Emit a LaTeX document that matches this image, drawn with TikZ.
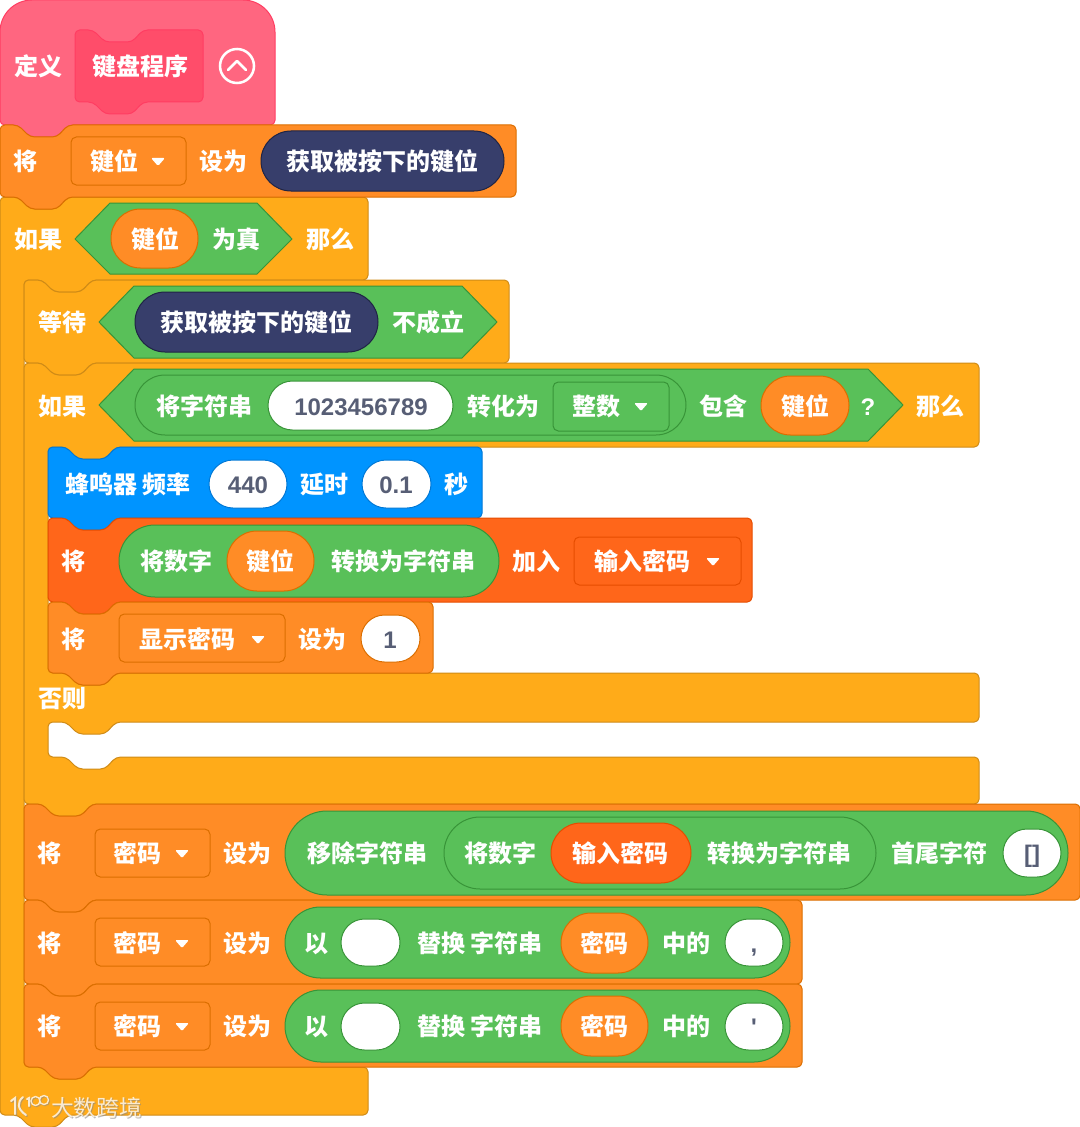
\documentclass[tikz,border=0pt]{standalone}
\usepackage{fontspec}
\setmainfont{Noto Sans CJK SC}
\newfontfamily\lat{Liberation Sans}
\definecolor{hatF}{HTML}{FF6680}\definecolor{hatD}{HTML}{FF3D62}
\definecolor{hatI}{HTML}{FF4D6A}
\definecolor{ctlF}{HTML}{FFAB19}\definecolor{ctlD}{HTML}{CF8B17}
\definecolor{varF}{HTML}{FF8C26}\definecolor{varD}{HTML}{DB6E00}
\definecolor{grnF}{HTML}{59C059}\definecolor{grnD}{HTML}{389438}
\definecolor{navF}{HTML}{373E6B}\definecolor{navD}{HTML}{1F2445}
\definecolor{bluF}{HTML}{0094FF}\definecolor{bluD}{HTML}{0078D6}
\definecolor{redF}{HTML}{FF661A}\definecolor{redD}{HTML}{E64D00}
\definecolor{numC}{HTML}{575E75}
\definecolor{wmC}{HTML}{FFF3DF}
\definecolor{wmS}{HTML}{8A8A8A}
\tikzset{
  hatsty/.style={fill=hatF,draw=hatD},
  hatin/.style={fill=hatI,draw=hatD},
  ctl/.style={fill=ctlF,draw=ctlD},
  vari/.style={fill=varF,draw=varD},
  grn/.style={fill=grnF,draw=grnD},
  nav/.style={fill=navF,draw=navD},
  blu/.style={fill=bluF,draw=bluD},
  red/.style={fill=redF,draw=redD},
  whi/.style={fill=white,draw=grnD},
  whibl/.style={fill=white,draw=bluD},
  whiv/.style={fill=white,draw=varD},
  blk/.style={line width=0.75pt,rounded corners=3.5pt,line join=round},
  lbl/.style={text=white,font=\fontsize{18}{18}\selectfont\bfseries,inner sep=0pt,text height=15.84pt,text depth=2.16pt},
  num/.style={text=numC,font=\fontsize{18}{18}\selectfont\lat\bfseries,inner sep=0pt,text height=15.84pt,text depth=2.16pt},
  wmtxt/.style={font=\fontsize{17}{17}\selectfont,inner sep=0pt},
}
\newcounter{tc}
\newcommand\tx[3]{\stepcounter{tc}\node[lbl] (t\thetc) at (#1,#2) {#3};}
\newcommand\nm[3]{\stepcounter{tc}\node[num] (t\thetc) at (#1,#2) {#3};}
% top notch left to right, bottom tab right to left
\newcommand\nT[2]{-- (#1+18,#2) -- (#1+30,#2+12) -- (#1+57,#2+12) -- (#1+68,#2)}
\newcommand\nB[2]{-- (#1+68,#2) -- (#1+57,#2+12) -- (#1+30,#2+12) -- (#1+18,#2)}
\newcommand\stk[5]{\draw[blk,#5] (#1,#2) \nT{#1}{#2} -- (#3,#2) -- (#3,#4) \nB{#1}{#4} -- (#1,#4) -- cycle;}
\newcommand\pill[5]{\draw[line width=0.75pt,#5,rounded corners={(#4-#3)/2*0.75pt}] (#1,#3) rectangle (#2,#4);}
\newcommand\dd[5]{\draw[line width=0.75pt,#5,rounded corners=4pt] (#1,#3) rectangle (#2,#4);}
\newcommand\tri[2]{\fill[white,rounded corners=1pt] (#1-7,#2-4) -- (#1+7,#2-4) -- (#1,#2+4) -- cycle;}
\newcommand\hex[7]{\draw[line width=0.75pt,grn,line join=round] (#1,#6) -- (#2,#4) -- (#3-#7,#4) -- (#3,#6) -- (#3-#7,#5) -- (#2,#5) -- cycle;}
\newcommand\wmlogo{
  \draw (11,1101) -- (15,1098) -- (15,1114);
  \draw (23,1097) .. controls (17,1102) and (17,1109) .. (26,1115);
  \draw (27,1099) -- (29,1098) -- (29,1106);
  \draw[line width=1pt] (35.5,1101) circle (4.5) (44,1100) circle (4.5);
}
\begin{document}
\begin{tikzpicture}[x=0.75pt,y=-0.75pt]
\useasboundingbox (0,0) rectangle (1080,1127);
\begin{scope}
\clip (0,0) rectangle (1080,1127);
% hat
\draw[line width=0.75pt,hatsty,line join=round,rounded corners=3.5pt]
  (0,125) -- (0,40) [rounded corners=24pt] -- (0,0) -- (275,0) [rounded corners=3.5pt] -- (275,40) -- (275,125) \nB{0}{125} -- cycle;
\draw[blk,hatin] (75,30) \nT{75}{30} -- (203,30) -- (203,102) \nB{75}{102} -- (75,102) -- cycle;
\tx{38}{66}{定义}
\tx{140}{66}{键盘程序}
\draw[white,line width=1.9pt] (237,66) circle (17);
\draw[white,line width=1.9pt,line cap=round,line join=round] (228,70) -- (237,61) -- (246,70);
% outer C
\draw[blk,ctl] (0,197) \nT{0}{197} -- (368,197) -- (368,280) \nB{24}{280} -- (24,280) -- (24,1067) \nT{24}{1067} -- (368,1067) -- (368,1115) \nB{0}{1115} -- (0,1115) -- cycle;
% set key
\stk{0}{125}{516}{197}{vari}
\tx{25}{161}{将}
\dd{71}{186}{137}{185}{vari}
\tx{114}{161}{键位}\tri{158}{162}
\tx{223}{161}{设为}
\pill{261}{504}{131}{191}{nav}
\tx{382}{161}{获取被按下的键位}
% if header
\tx{38}{239}{如果}
\hex{75}{110}{292}{203}{274}{239}{35}
\pill{111}{198}{209}{268}{vari}
\tx{155}{239}{键位}
\tx{236}{239}{为真}
\tx{330}{239}{那么}
% wait
\stk{24}{280}{509}{363}{ctl}
\tx{62}{322}{等待}
\hex{99}{134}{497}{286}{358}{322}{35}
\pill{135}{378}{292}{352}{nav}
\tx{256}{322}{获取被按下的键位}
\tx{428}{322}{不成立}
% inner if/else
\draw[blk,ctl] (24,363) \nT{24}{363} -- (979,363) -- (979,447) \nB{48}{447} -- (48,447) -- (48,673) \nT{48}{673} -- (979,673) -- (979,722) \nB{48}{722} -- (48,722) -- (48,757) \nT{48}{757} -- (979,757) -- (979,804) \nB{24}{804} -- (24,804) -- cycle;
\tx{62}{406}{如果}
\hex{99}{134}{903}{369}{441}{405}{35}
\pill{135}{686}{375}{435}{grn}
\tx{204}{406}{将字符串}
\pill{268}{453}{381}{430}{whi}
\nm{361}{406}{1023456789}
\tx{503}{406}{转化为}
\dd{553}{669}{382}{431}{grn}
\tx{596}{406}{整数}\tri{641}{407}
\tx{723}{406}{包含}
\pill{761}{849}{376}{435}{vari}
\tx{805}{406}{键位}
\nm{868}{406}{\textcolor{white}{?}}
\tx{940}{406}{那么}
% beep
\stk{48}{447}{482}{518}{blu}
\tx{128}{484}{蜂鸣器 频率}
\pill{209}{287}{460}{508}{whibl}
\nm{248}{484}{440}
\tx{324}{484}{延时}
\pill{362}{431}{460}{508}{whibl}
\nm{396}{484}{0.1}
\tx{456}{484}{秒}
% add to list
\stk{48}{518}{752}{602}{red}
\tx{73}{561}{将}
\pill{119}{499}{525}{597}{grn}
\tx{176}{561}{将数字}
\pill{227}{314}{531}{591}{vari}
\tx{270}{561}{键位}
\tx{403}{561}{转换为字符串}
\tx{536}{561}{加入}
\dd{574}{741}{537}{585}{red}
\tx{642}{561}{输入密码}\tri{713}{562}
% show password
\stk{48}{602}{433}{673}{vari}
\tx{73}{639}{将}
\dd{119}{285}{614}{662}{vari}
\tx{187}{639}{显示密码}\tri{258}{640}
\tx{322}{639}{设为}
\pill{361}{420}{615}{662}{whiv}
\nm{390}{639}{1}
\tx{62}{698}{否则}
% password 1
\stk{24}{804}{1080}{900}{vari}
\tx{49}{853}{将}
\dd{95}{210}{829}{877}{vari}
\tx{137}{853}{密码}\tri{182}{854}
\tx{247}{853}{设为}
\pill{285}{1068}{811}{895}{grn}
\tx{367}{853}{移除字符串}
\pill{444}{876}{817}{889}{grn}
\tx{500}{853}{将数字}
\pill{551}{691}{823}{883}{red}
\tx{620}{853}{输入密码}
\tx{779}{853}{转换为字符串}
\tx{939}{853}{首尾字符}
\pill{1003}{1061}{829}{877}{whi}
\nm{1032}{853}{[]}
% password 2
\stk{24}{900}{802}{984}{vari}
\tx{49}{943}{将}
\dd{95}{210}{918}{966}{vari}
\tx{137}{943}{密码}\tri{182}{944}
\tx{247}{943}{设为}
\pill{285}{790}{907}{978}{grn}
\tx{316}{943}{以}
\pill{341}{400}{919}{966}{whi}
\tx{480}{943}{替换 字符串}
\pill{561}{648}{913}{973}{vari}
\tx{604}{943}{密码}
\tx{686}{943}{中的}
\pill{725}{783}{919}{966}{whi}
\nm{754}{943}{,}
% password 3
\stk{24}{984}{802}{1067}{vari}
\tx{49}{1026}{将}
\dd{95}{210}{1002}{1050}{vari}
\tx{137}{1026}{密码}\tri{182}{1027}
\tx{247}{1026}{设为}
\pill{285}{790}{990}{1062}{grn}
\tx{316}{1026}{以}
\pill{341}{400}{1003}{1050}{whi}
\tx{480}{1026}{替换 字符串}
\pill{561}{648}{996}{1056}{vari}
\tx{604}{1026}{密码}
\tx{686}{1026}{中的}
\pill{725}{783}{1003}{1050}{whi}
\nm{754}{1026}{\symbol{39}}
% watermark
\begin{scope}[shift={(1,1)},line width=1.5pt,line cap=round,draw=wmS,draw opacity=0.55]
\wmlogo
\end{scope}
\begin{scope}[line width=1.5pt,line cap=round,draw=wmC,draw opacity=0.9]
\wmlogo
\end{scope}
\node[wmtxt,text=wmS,text opacity=0.6] (wms) at (97.5,1108.5) {大数跨境};
\node[wmtxt,text=wmC,text opacity=0.9] (wm) at (96.5,1107.5) {大数跨境};
\end{scope}
\end{tikzpicture}
\end{document}
